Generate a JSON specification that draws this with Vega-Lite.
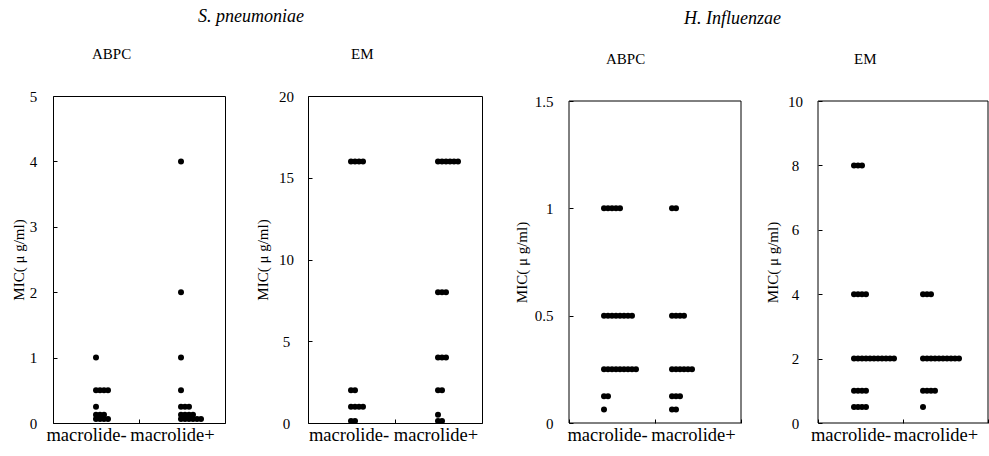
{
  "$schema": "https://vega.github.io/schema/vega-lite/v6.json",
  "padding": {"left": 10, "top": 7, "right": 0, "bottom": 0},
  "spacing": 31,
  "config": {
    "view": {"stroke": "black", "strokeWidth": 1},
    "font": "Liberation Serif",
    "axis": {"grid": false, "domain": false, "domainColor": "black", "tickColor": "black", "tickSize": -4, "labelColor": "black", "labelFont": "Liberation Serif", "titleFont": "Liberation Serif", "titleColor": "black", "titleFontWeight": "normal"},
    "title": {"font": "Liberation Serif", "color": "black", "fontWeight": "normal"}
  },
  "datasets": {
    "sp_abpc": [
      {"group": "macrolide-", "mic": 1},
      {"group": "macrolide-", "mic": 0.5}, {"group": "macrolide-", "mic": 0.5}, {"group": "macrolide-", "mic": 0.5}, {"group": "macrolide-", "mic": 0.5},
      {"group": "macrolide-", "mic": 0.25},
      {"group": "macrolide-", "mic": 0.125}, {"group": "macrolide-", "mic": 0.125}, {"group": "macrolide-", "mic": 0.125},
      {"group": "macrolide-", "mic": 0.063}, {"group": "macrolide-", "mic": 0.063}, {"group": "macrolide-", "mic": 0.063}, {"group": "macrolide-", "mic": 0.063},
      {"group": "macrolide+", "mic": 4},
      {"group": "macrolide+", "mic": 2},
      {"group": "macrolide+", "mic": 1},
      {"group": "macrolide+", "mic": 0.5},
      {"group": "macrolide+", "mic": 0.25}, {"group": "macrolide+", "mic": 0.25}, {"group": "macrolide+", "mic": 0.25},
      {"group": "macrolide+", "mic": 0.125}, {"group": "macrolide+", "mic": 0.125}, {"group": "macrolide+", "mic": 0.125}, {"group": "macrolide+", "mic": 0.125},
      {"group": "macrolide+", "mic": 0.063}, {"group": "macrolide+", "mic": 0.063}, {"group": "macrolide+", "mic": 0.063}, {"group": "macrolide+", "mic": 0.063}, {"group": "macrolide+", "mic": 0.063}, {"group": "macrolide+", "mic": 0.063}
    ],
    "sp_em": [
      {"group": "macrolide-", "mic": 16}, {"group": "macrolide-", "mic": 16}, {"group": "macrolide-", "mic": 16}, {"group": "macrolide-", "mic": 16},
      {"group": "macrolide-", "mic": 2}, {"group": "macrolide-", "mic": 2},
      {"group": "macrolide-", "mic": 1}, {"group": "macrolide-", "mic": 1}, {"group": "macrolide-", "mic": 1}, {"group": "macrolide-", "mic": 1},
      {"group": "macrolide-", "mic": 0.125}, {"group": "macrolide-", "mic": 0.125},
      {"group": "macrolide+", "mic": 16}, {"group": "macrolide+", "mic": 16}, {"group": "macrolide+", "mic": 16}, {"group": "macrolide+", "mic": 16}, {"group": "macrolide+", "mic": 16}, {"group": "macrolide+", "mic": 16},
      {"group": "macrolide+", "mic": 8}, {"group": "macrolide+", "mic": 8}, {"group": "macrolide+", "mic": 8},
      {"group": "macrolide+", "mic": 4}, {"group": "macrolide+", "mic": 4}, {"group": "macrolide+", "mic": 4},
      {"group": "macrolide+", "mic": 2}, {"group": "macrolide+", "mic": 2},
      {"group": "macrolide+", "mic": 0.5},
      {"group": "macrolide+", "mic": 0.125}, {"group": "macrolide+", "mic": 0.125}
    ],
    "hi_abpc": [
      {"group": "macrolide-", "mic": 1}, {"group": "macrolide-", "mic": 1}, {"group": "macrolide-", "mic": 1}, {"group": "macrolide-", "mic": 1}, {"group": "macrolide-", "mic": 1},
      {"group": "macrolide-", "mic": 0.5}, {"group": "macrolide-", "mic": 0.5}, {"group": "macrolide-", "mic": 0.5}, {"group": "macrolide-", "mic": 0.5}, {"group": "macrolide-", "mic": 0.5}, {"group": "macrolide-", "mic": 0.5}, {"group": "macrolide-", "mic": 0.5}, {"group": "macrolide-", "mic": 0.5},
      {"group": "macrolide-", "mic": 0.25}, {"group": "macrolide-", "mic": 0.25}, {"group": "macrolide-", "mic": 0.25}, {"group": "macrolide-", "mic": 0.25}, {"group": "macrolide-", "mic": 0.25}, {"group": "macrolide-", "mic": 0.25}, {"group": "macrolide-", "mic": 0.25}, {"group": "macrolide-", "mic": 0.25}, {"group": "macrolide-", "mic": 0.25},
      {"group": "macrolide-", "mic": 0.125}, {"group": "macrolide-", "mic": 0.125},
      {"group": "macrolide-", "mic": 0.0625},
      {"group": "macrolide+", "mic": 1}, {"group": "macrolide+", "mic": 1},
      {"group": "macrolide+", "mic": 0.5}, {"group": "macrolide+", "mic": 0.5}, {"group": "macrolide+", "mic": 0.5}, {"group": "macrolide+", "mic": 0.5},
      {"group": "macrolide+", "mic": 0.25}, {"group": "macrolide+", "mic": 0.25}, {"group": "macrolide+", "mic": 0.25}, {"group": "macrolide+", "mic": 0.25}, {"group": "macrolide+", "mic": 0.25}, {"group": "macrolide+", "mic": 0.25},
      {"group": "macrolide+", "mic": 0.125}, {"group": "macrolide+", "mic": 0.125}, {"group": "macrolide+", "mic": 0.125},
      {"group": "macrolide+", "mic": 0.0625}, {"group": "macrolide+", "mic": 0.0625}
    ],
    "hi_em": [
      {"group": "macrolide-", "mic": 8}, {"group": "macrolide-", "mic": 8}, {"group": "macrolide-", "mic": 8},
      {"group": "macrolide-", "mic": 4}, {"group": "macrolide-", "mic": 4}, {"group": "macrolide-", "mic": 4}, {"group": "macrolide-", "mic": 4},
      {"group": "macrolide-", "mic": 2}, {"group": "macrolide-", "mic": 2}, {"group": "macrolide-", "mic": 2}, {"group": "macrolide-", "mic": 2}, {"group": "macrolide-", "mic": 2}, {"group": "macrolide-", "mic": 2}, {"group": "macrolide-", "mic": 2}, {"group": "macrolide-", "mic": 2}, {"group": "macrolide-", "mic": 2}, {"group": "macrolide-", "mic": 2}, {"group": "macrolide-", "mic": 2},
      {"group": "macrolide-", "mic": 1}, {"group": "macrolide-", "mic": 1}, {"group": "macrolide-", "mic": 1}, {"group": "macrolide-", "mic": 1},
      {"group": "macrolide-", "mic": 0.5}, {"group": "macrolide-", "mic": 0.5}, {"group": "macrolide-", "mic": 0.5}, {"group": "macrolide-", "mic": 0.5},
      {"group": "macrolide+", "mic": 4}, {"group": "macrolide+", "mic": 4}, {"group": "macrolide+", "mic": 4},
      {"group": "macrolide+", "mic": 2}, {"group": "macrolide+", "mic": 2}, {"group": "macrolide+", "mic": 2}, {"group": "macrolide+", "mic": 2}, {"group": "macrolide+", "mic": 2}, {"group": "macrolide+", "mic": 2}, {"group": "macrolide+", "mic": 2}, {"group": "macrolide+", "mic": 2}, {"group": "macrolide+", "mic": 2}, {"group": "macrolide+", "mic": 2},
      {"group": "macrolide+", "mic": 1}, {"group": "macrolide+", "mic": 1}, {"group": "macrolide+", "mic": 1}, {"group": "macrolide+", "mic": 1},
      {"group": "macrolide+", "mic": 0.5}
    ]
  },
  "hconcat": [
    {
      "title": {"text": "S. pneumoniae", "fontStyle": "italic", "fontSize": 18, "anchor": "middle", "dx": 4, "offset": 21},
      "spacing": 29,
      "hconcat": [
        {
          "width": 172, "height": 327,
          "title": {"text": "ABPC", "anchor": "start", "frame": "group", "dx": 39, "offset": 27, "fontSize": 15},
          "data": {"name": "sp_abpc"},
          "transform": [{"window": [{"op": "row_number", "as": "k"}], "groupby": ["group", "mic"]}],
          "encoding": {
            "x": {"field": "group", "type": "nominal", "scale": {"domain": ["macrolide-", "macrolide+"], "paddingInner": 0, "paddingOuter": 0}, "axis": {"title": null, "labelAngle": 0, "tickBand": "extent", "labelFontSize": 18.5, "labelPadding": 6, "labelOffset": -10}},
            "y": {"field": "mic", "type": "quantitative", "scale": {"domain": [0, 5], "nice": false}, "axis": {"values": [0, 1, 2, 3, 4, 5], "labelExpr": "'' + datum.value", "title": "MIC( μ g/ml)", "labelFontSize": 15, "titleFontSize": 15, "labelAlign": "center", "labelPadding": 24, "titlePadding": 3}}
          },
          "layer": [
            {"transform": [{"filter": "datum.group === 'macrolide-'"}], "mark": {"type": "circle", "size": 36, "color": "black", "opacity": 1}, "encoding": {"xOffset": {"field": "k", "type": "quantitative", "scale": {"domain": [1, 2], "range": [43, 47]}}}},
            {"transform": [{"filter": "datum.group === 'macrolide+'"}], "mark": {"type": "circle", "size": 36, "color": "black", "opacity": 1}, "encoding": {"xOffset": {"field": "k", "type": "quantitative", "scale": {"domain": [1, 2], "range": [42, 46]}}}}
          ],
          "resolve": {"scale": {"xOffset": "independent"}}
        },
        {
          "width": 174, "height": 327,
          "title": {"text": "EM", "anchor": "start", "frame": "group", "dx": 43, "offset": 27, "fontSize": 15},
          "data": {"name": "sp_em"},
          "transform": [{"window": [{"op": "row_number", "as": "k"}], "groupby": ["group", "mic"]}],
          "encoding": {
            "x": {"field": "group", "type": "nominal", "scale": {"domain": ["macrolide-", "macrolide+"], "paddingInner": 0, "paddingOuter": 0}, "axis": {"title": null, "labelAngle": 0, "tickBand": "extent", "labelFontSize": 18.5, "labelPadding": 6, "labelOffset": -3}},
            "y": {"field": "mic", "type": "quantitative", "scale": {"domain": [0, 20], "nice": false}, "axis": {"values": [0, 5, 10, 15, 20], "labelExpr": "'' + datum.value", "title": "MIC( μ g/ml)", "labelFontSize": 15, "titleFontSize": 15, "labelAlign": "center", "labelPadding": 26, "titlePadding": 8}}
          },
          "layer": [
            {"transform": [{"filter": "datum.group === 'macrolide-'"}], "mark": {"type": "circle", "size": 36, "color": "black", "opacity": 1}, "encoding": {"xOffset": {"field": "k", "type": "quantitative", "scale": {"domain": [1, 2], "range": [43, 47]}}}},
            {"transform": [{"filter": "datum.group === 'macrolide+'"}], "mark": {"type": "circle", "size": 36, "color": "black", "opacity": 1}, "encoding": {"xOffset": {"field": "k", "type": "quantitative", "scale": {"domain": [1, 2], "range": [43, 47]}}}}
          ],
          "resolve": {"scale": {"xOffset": "independent"}}
        }
      ]
    },
    {
      "title": {"text": "H. Influenzae", "fontStyle": "italic", "fontSize": 18, "anchor": "middle", "dx": -19, "offset": 24},
      "spacing": 23,
      "hconcat": [
        {
          "width": 172, "height": 327,
          "view": {"stroke": null},
          "title": {"text": "ABPC", "anchor": "start", "frame": "group", "dx": 37, "offset": 27, "fontSize": 15},
          "data": {"name": "hi_abpc"},
          "transform": [{"window": [{"op": "row_number", "as": "k"}], "groupby": ["group", "mic"]}],
          "layer": [
            {"transform": [{"aggregate": [{"op": "count", "as": "n"}]}], "mark": {"type": "rect", "fill": "transparent", "stroke": "black", "strokeWidth": 1}, "encoding": {"x": {"value": 0}, "x2": {"value": "width"}, "y": {"datum": 0, "type": "quantitative"}, "y2": {"datum": 1.5}}},
            {"transform": [{"filter": "datum.group === 'macrolide-'"}], "mark": {"type": "circle", "size": 36, "color": "black", "opacity": 1}, "encoding": {
              "x": {"field": "group", "type": "nominal", "scale": {"domain": ["macrolide-", "macrolide+"], "paddingInner": 0, "paddingOuter": 0}, "axis": {"title": null, "labelAngle": 0, "tickBand": "extent", "labelFontSize": 18.5, "labelPadding": 6, "labelOffset": -5}},
              "y": {"field": "mic", "type": "quantitative", "scale": {"domain": [0, 1.5], "nice": false, "range": [327, 5]}, "axis": {"values": [0, 0.5, 1, 1.5], "labelExpr": "'' + datum.value", "title": "MIC( μ g/ml)", "labelFontSize": 15, "titleFontSize": 15, "labelPadding": 20, "titlePadding": 5}},
              "xOffset": {"field": "k", "type": "quantitative", "scale": {"domain": [1, 2], "range": [35, 39]}}}},
            {"transform": [{"filter": "datum.group === 'macrolide+'"}], "mark": {"type": "circle", "size": 36, "color": "black", "opacity": 1}, "encoding": {
              "x": {"field": "group", "type": "nominal", "scale": {"domain": ["macrolide-", "macrolide+"], "paddingInner": 0, "paddingOuter": 0}, "axis": {"title": null, "labelAngle": 0, "tickBand": "extent", "labelFontSize": 18.5, "labelPadding": 6, "labelOffset": -5}},
              "y": {"field": "mic", "type": "quantitative", "scale": {"domain": [0, 1.5], "nice": false, "range": [327, 5]}, "axis": {"values": [0, 0.5, 1, 1.5], "labelExpr": "'' + datum.value", "title": "MIC( μ g/ml)", "labelFontSize": 15, "titleFontSize": 15, "labelPadding": 20, "titlePadding": 5}},
              "xOffset": {"field": "k", "type": "quantitative", "scale": {"domain": [1, 2], "range": [17, 21]}}}}
          ],
          "resolve": {"scale": {"xOffset": "independent"}}
        },
        {
          "width": 170, "height": 327,
          "view": {"stroke": null},
          "title": {"text": "EM", "anchor": "start", "frame": "group", "dx": 36, "offset": 27, "fontSize": 15},
          "data": {"name": "hi_em"},
          "transform": [{"window": [{"op": "row_number", "as": "k"}], "groupby": ["group", "mic"]}],
          "layer": [
            {"transform": [{"aggregate": [{"op": "count", "as": "n"}]}], "mark": {"type": "rect", "fill": "transparent", "stroke": "black", "strokeWidth": 1}, "encoding": {"x": {"value": 0}, "x2": {"value": "width"}, "y": {"datum": 0, "type": "quantitative"}, "y2": {"datum": 10}}},
            {"transform": [{"filter": "datum.group === 'macrolide-'"}], "mark": {"type": "circle", "size": 36, "color": "black", "opacity": 1}, "encoding": {
              "x": {"field": "group", "type": "nominal", "scale": {"domain": ["macrolide-", "macrolide+"], "paddingInner": 0, "paddingOuter": 0}, "axis": {"title": null, "labelAngle": 0, "tickBand": "extent", "labelFontSize": 18.5, "labelPadding": 6, "labelOffset": -10}},
              "y": {"field": "mic", "type": "quantitative", "scale": {"domain": [0, 10], "nice": false, "range": [327, 5]}, "axis": {"values": [0, 2, 4, 6, 8, 10], "labelExpr": "'' + datum.value", "title": "MIC( μ g/ml)", "labelFontSize": 15, "titleFontSize": 15, "labelAlign": "center", "labelPadding": 27, "titlePadding": 7}},
              "xOffset": {"field": "k", "type": "quantitative", "scale": {"domain": [1, 2], "range": [36, 40]}}}},
            {"transform": [{"filter": "datum.group === 'macrolide+'"}], "mark": {"type": "circle", "size": 36, "color": "black", "opacity": 1}, "encoding": {
              "x": {"field": "group", "type": "nominal", "scale": {"domain": ["macrolide-", "macrolide+"], "paddingInner": 0, "paddingOuter": 0}, "axis": {"title": null, "labelAngle": 0, "tickBand": "extent", "labelFontSize": 18.5, "labelPadding": 6, "labelOffset": -10}},
              "y": {"field": "mic", "type": "quantitative", "scale": {"domain": [0, 10], "nice": false, "range": [327, 5]}, "axis": {"values": [0, 2, 4, 6, 8, 10], "labelExpr": "'' + datum.value", "title": "MIC( μ g/ml)", "labelFontSize": 15, "titleFontSize": 15, "labelAlign": "center", "labelPadding": 27, "titlePadding": 7}},
              "xOffset": {"field": "k", "type": "quantitative", "scale": {"domain": [1, 2], "range": [20, 24]}}}}
          ],
          "resolve": {"scale": {"xOffset": "independent"}}
        }
      ]
    }
  ]
}
